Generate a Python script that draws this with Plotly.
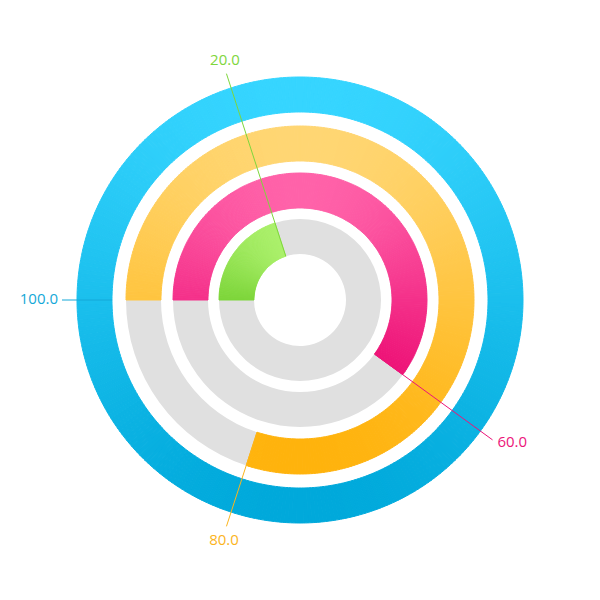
import numpy as np
import plotly.graph_objects as go

# valori delle barre radiali (massimo 100)
values = [20, 60, 80, 100]
labels = ["20.0", "60.0", "80.0", "100.0"]
max_value = 100

# raggi interni e spessore degli anelli (in pixel, asse radiale 0..292)
inner_radius = [46, 92, 139, 188]
thickness = 35

top_colors = ["#abf06b", "#ff62a9", "#ffd673", "#36d5ff"]
bottom_colors = ["#7dd53a", "#ee1478", "#ffb30c", "#00a9db"]
label_colors = ["#7ed63c", "#ec1479", "#fbb41c", "#14a8d8"]
track_color = "#e0e0e0"
label_pos = ["top center", "middle right", "bottom center", "middle left"]
label_r = [243, 244, 246, 242]

fig = go.Figure()

for i, v in enumerate(values):
    end = v / max_value * 360
    base = inner_radius[i]

    # parte grigia (resto fino a 100)
    if end < 360:
        fig.add_trace(go.Barpolar(
            theta=[(end + 360) / 2], r=[thickness], base=[base],
            width=[360 - end],
            marker=dict(color=track_color, line=dict(width=0)),
            hoverinfo="skip"
        ))

    # barra colorata: tanti spicchi per simulare il gradiente verticale
    step = 1.0
    n = int(round(end / step))
    th = (np.arange(n) + 0.5) * end / n
    height = np.sin(np.radians(th)) * (base + thickness / 2)
    cs = [[0, bottom_colors[i]], [1, top_colors[i]]]
    fig.add_trace(go.Barpolar(
        theta=th, r=[thickness] * n, base=[base] * n,
        width=[end / n] * n,
        marker=dict(
            color=height, colorscale=cs, showscale=False,
            line=dict(width=1, color=height, colorscale=cs)
        ),
        name=labels[i], hovertemplate=labels[i] + "<extra></extra>"
    ))

# linee guida ed etichette
for i, v in enumerate(values):
    ang = v / max_value * 360
    fig.add_trace(go.Scatterpolar(
        theta=[ang, ang], r=[inner_radius[i], 238],
        mode="lines", line=dict(color=label_colors[i], width=1),
        hoverinfo="skip"
    ))
    fig.add_trace(go.Scatterpolar(
        theta=[ang], r=[label_r[i]], mode="text", text=[labels[i]],
        textposition=label_pos[i],
        textfont=dict(family="Open Sans", size=15, color=label_colors[i]),
        hoverinfo="skip"
    ))

# il body della pagina ha 8px di margine: il centro polare va a 292px
fig.update_layout(
    width=600, height=600,
    margin=dict(l=0, r=0, t=0, b=0),
    showlegend=False,
    paper_bgcolor="white",
    polar=dict(
        domain=dict(x=[0, 584 / 600], y=[16 / 600, 1]),
        bgcolor="white",
        barmode="overlay",
        radialaxis=dict(visible=False, range=[0, 292]),
        angularaxis=dict(visible=False, rotation=180, direction="clockwise"),
    ),
)

fig.write_html("out.html")
